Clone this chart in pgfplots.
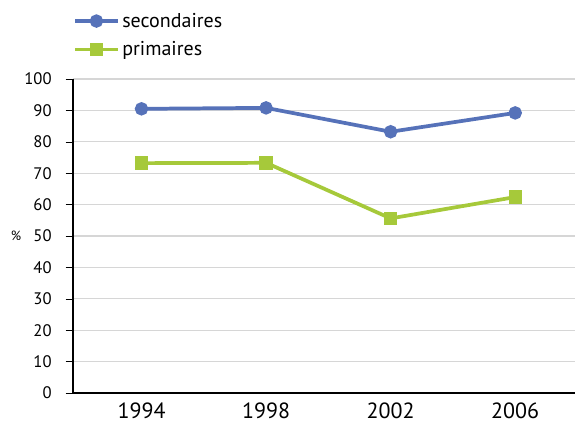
\documentclass[border=0pt]{standalone}
\usepackage{fontspec}
\setmainfont{PT Sans}
\usepackage{pgfplots}
\pgfplotsset{compat=1.18}
\usetikzlibrary{calc}
\definecolor{blueLine}{HTML}{5672B9}
\definecolor{greenLine}{HTML}{A6C93A}
\definecolor{gridGrey}{HTML}{D6D6D6}

\begin{document}
\begin{tikzpicture}[x=0.75pt,y=0.75pt]
\begin{axis}[
  scale only axis,
  width=376.5pt, height=235.5pt,
  xmin=-0.55, xmax=3.48,
  ymin=0, ymax=100,
  xtick={0,1,2,3},
  xticklabels={1994,1998,2002,2006},
  ytick={0,10,...,100},
  major x tick style={draw=none},
  ytick style={black,thin},
  tick align=outside,
  major tick length=5.5pt,
  yticklabel style={font=\fontsize{12.5}{13}\selectfont, xshift=-7pt},
  xticklabel style={font=\fontsize{16.5}{18}\selectfont, yshift=2pt},
  /pgf/number format/assume math mode=true,
  axis x line*=bottom, axis y line*=left,
  axis line style={black,line width=0.9pt},
  ymajorgrids, grid style={gridGrey,line width=0.8pt},
  ylabel={\%}, ylabel style={rotate=-90,font=\fontsize{12}{13}\selectfont},
  every axis y label/.style={at={(axis description cs:0,0.5)},anchor=center,xshift=-42.75pt},
  clip=false,
  legend style={at={(-0.008,1.05)},anchor=south west,draw=none,fill=none,
    font=\fontsize{15}{17}\selectfont,row sep=5.3pt},
  legend cell align={left},
  legend image code/.code={
    \draw[#1,line width=2.8pt] (0pt,0pt) -- (32pt,0pt);
    \draw[#1,only marks] plot coordinates {(16pt,0pt)};
  },
]
\addplot[color=blueLine,line width=2.8pt,mark=*,mark size=3.6pt] coordinates {
  (0,90.5) (1,90.8) (2,83.2) (3,89.2)
};
\addlegendentry{secondaires}
\addplot[color=greenLine,line width=2.8pt,mark=square*,mark size=3.6pt] coordinates {
  (0,73.2) (1,73.3) (2,55.6) (3,62.4)
};
\addlegendentry{primaires}
\end{axis}
\pgfresetboundingbox
\path[use as bounding box] ($(current axis.south west)+(-54.75pt,-24pt)$) rectangle ($(current axis.north east)+(0pt,59.25pt)$);
\end{tikzpicture}
\end{document}
